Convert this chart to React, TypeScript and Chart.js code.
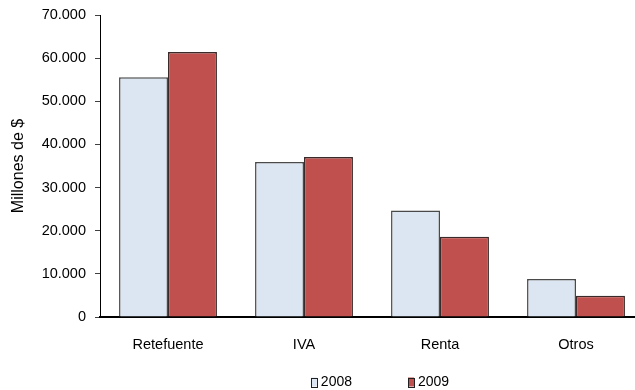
import { useEffect, useRef } from 'react';
import { Chart, registerables } from 'chart.js';

Chart.register(...registerables);

// Recaudo por tipo de impuesto (millones de $)
const categories = ['Retefuente', 'IVA', 'Renta', 'Otros'];
const seriesLabels = ['2008', '2009'];
const values2008 = [55600, 35900, 24700, 8800];
const values2009 = [61400, 37100, 18600, 4900];
const yAxisTitle = 'Millones de $';
const yMin = 0;
const yMax = 70000;
const yStep = 10000;

const FONT = '"Liberation Sans", Arial, Helvetica, sans-serif';

const formatThousands = (v: number) =>
  String(Math.round(v)).replace(/\B(?=(\d{3})+(?!\d))/g, '.');

// Legend drawn under the plot: small framed swatch + label per dataset
const bottomLegend = {
  id: 'bottomLegend',
  afterDraw(chart: any, _args: any, opts: any) {
    const { ctx } = chart;
    ctx.save();
    ctx.font = `14px ${FONT}`;
    ctx.textBaseline = 'middle';
    ctx.textAlign = 'left';
    const boxW = 6;
    const boxH = 9;
    const boxGap = 4;
    const itemGap = 56;
    const items = chart.data.datasets.map((ds: any) => ({
      label: ds.label as string,
      fill: ds.backgroundColor as string,
      w: ctx.measureText(ds.label).width,
    }));
    const total =
      items.reduce((s: number, it: any) => s + boxW + boxGap + it.w, 0) +
      itemGap * (items.length - 1);
    let x = opts.centerX - total / 2;
    const y = opts.y;
    for (const it of items) {
      ctx.fillStyle = it.fill;
      ctx.fillRect(x, y - boxH / 2, boxW, boxH);
      ctx.strokeStyle = '#222';
      ctx.lineWidth = 1;
      ctx.strokeRect(Math.round(x) + 0.5, Math.round(y - boxH / 2) + 0.5, boxW, boxH);
      ctx.fillStyle = '#000';
      ctx.fillText(it.label, x + boxW + boxGap, y);
      x += boxW + boxGap + it.w + itemGap;
    }
    ctx.restore();
  },
};

function BarChart() {
  const canvasRef = useRef<HTMLCanvasElement | null>(null);

  useEffect(() => {
    const canvas = canvasRef.current;
    if (!canvas) return;
    const chart = new Chart(canvas, {
      type: 'bar',
      data: {
        labels: categories,
        datasets: [
          {
            label: seriesLabels[0],
            data: values2008,
            backgroundColor: '#DCE6F2',
            borderColor: '#4a4a4a',
            borderWidth: 1.5,
          },
          {
            label: seriesLabels[1],
            data: values2009,
            backgroundColor: '#C0504D',
            borderColor: '#3a2a2a',
            borderWidth: 1.5,
          },
        ],
      },
      options: {
        responsive: false,
        devicePixelRatio: 1,
        animation: false,
        layout: { padding: { left: 0, right: 8, top: 15, bottom: 0 } },
        datasets: {
          bar: { categoryPercentage: 0.72, barPercentage: 1 },
        },
        plugins: {
          legend: { display: false },
          tooltip: { enabled: false },
          title: { display: false },
          bottomLegend: { centerX: 380, y: 382 },
        } as any,
        scales: {
          x: {
            grid: { display: false, drawTicks: false },
            border: { display: true, color: '#000', width: 2 },
            ticks: {
              color: '#000',
              font: { family: FONT, size: 14.5 },
              padding: 19,
              maxRotation: 0,
              autoSkip: false,
            },
            afterFit: (scale: any) => {
              scale.height = 73;
            },
          },
          y: {
            min: yMin,
            max: yMax,
            grid: {
              display: true,
              drawOnChartArea: false,
              drawTicks: true,
              tickLength: 5,
              color: '#404040',
              lineWidth: 1,
            },
            border: { display: true, color: '#000', width: 1 },
            ticks: {
              stepSize: yStep,
              color: '#000',
              font: { family: FONT, size: 14.5 },
              padding: 9,
              callback: (v: any) => formatThousands(Number(v)),
            },
            title: {
              display: true,
              text: yAxisTitle,
              color: '#000',
              font: { family: FONT, size: 16 },
              padding: { top: 9, bottom: 0 },
            },
            afterFit: (scale: any) => {
              scale.width = 100;
              // let the layout padding alone decide where the top tick sits
              scale.paddingTop = 0;
            },
          },
        },
      },
      plugins: [bottomLegend],
    });
    return () => chart.destroy();
  }, []);

  return <canvas ref={canvasRef} width={652} height={390} style={{ display: 'block' }} />;
}

export default function App() {
  return (
    <div
      style={{
        position: 'fixed',
        left: 0,
        top: 0,
        width: 635,
        height: 390,
        overflow: 'hidden',
        background: '#fff',
      }}
    >
      <BarChart />
    </div>
  );
}
